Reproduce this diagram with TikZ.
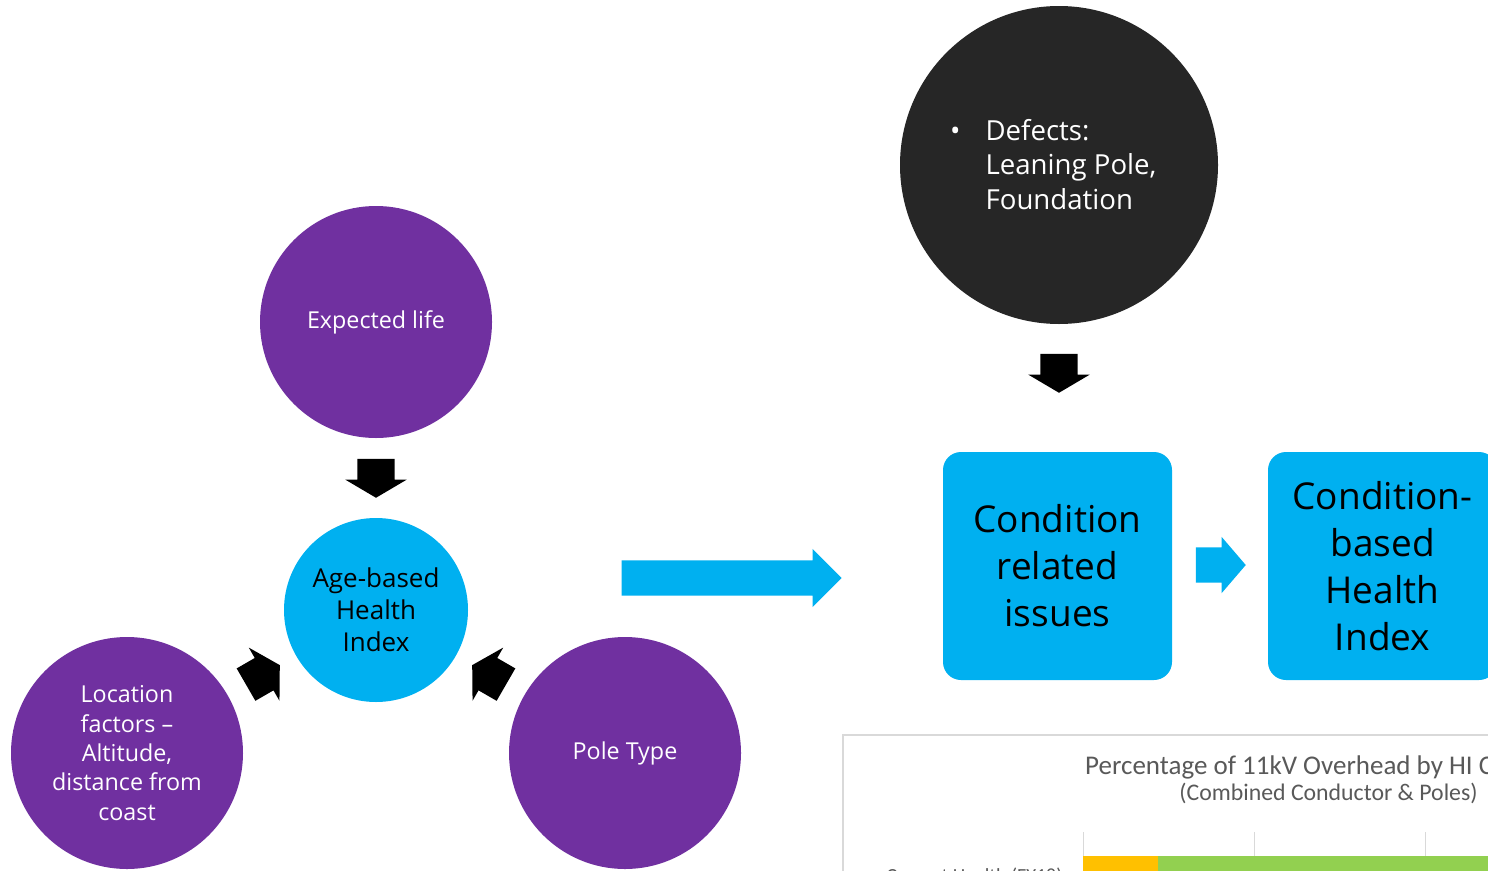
\documentclass[tikz,border=0pt]{standalone}
\usepackage{fontspec}
\setmainfont{Open Sans}
\newfontfamily\chartfont{Carlito}
\usetikzlibrary{shapes.arrows}
\definecolor{hipurple}{HTML}{7030A0}
\definecolor{hiblue}{HTML}{00B0F0}
\definecolor{hidark}{HTML}{262626}
\definecolor{chartgray}{HTML}{D9D9D9}
\definecolor{charttext}{HTML}{595959}
\definecolor{barorange}{HTML}{FFC000}
\definecolor{bargreen}{HTML}{92D050}

\begin{document}
\begin{tikzpicture}[x=1pt,y=-1pt,
  pc/.style={circle,fill=hipurple,text=white,inner sep=0pt,minimum size=232pt,align=center,font=\fontsize{23.3}{29.3}\selectfont},
  bc/.style={circle,fill=hiblue,text=black,inner sep=0pt,minimum size=184pt,align=center,font=\fontsize{26}{32}\selectfont},
  box/.style={rectangle,rounded corners=18pt,fill=hiblue,text=black,inner sep=0pt,minimum width=229pt,minimum height=228pt,align=center,font=\fontsize{37}{47}\selectfont},
  karrow/.style={single arrow,fill=black,anchor=tip,inner xsep=0pt,inner ysep=18.5pt,minimum height=39pt,single arrow head extend=12pt,single arrow tip angle=118.9},
  barrow/.style={single arrow,fill=hiblue,anchor=tip,inner xsep=0pt,inner ysep=17.5pt}]
\useasboundingbox (0,0) rectangle (1488,870);
\clip (0,0) rectangle (1488,870);
\fill[white] (0,0) rectangle (1488,870);
% age-based part
\node[pc] (life) at (376,322) {Expected life};
\node[bc] (age) at (376,610) {Age-based\\Health\\Index};
\node[pc] (loc) at (127,753) {Location\\factors --\\Altitude,\\distance from\\coast};
\node[pc] (pole) at (625,753) {Pole Type};
\node[karrow,rotate=-90] (a1) at (376,498) {};
\node[karrow,rotate=30] (a2) at (280,665) {};
\node[karrow,rotate=150] (a3) at (472,665) {};
% condition-based part
\node[barrow,minimum height=220pt,single arrow head extend=11.5pt] (big) at (842,578) {};
\node[circle,fill=hidark,text=white,inner sep=0pt,minimum size=318pt] (def) at (1059,165) {};
\node[anchor=north west,inner sep=0pt,text=white,font=\fontsize{27.6}{34.5}\selectfont] (deftxt) at (950,116)
  {\begin{tabular}{@{}l@{\hspace{25pt}}l@{}}\textbullet & Defects:\\ & Leaning Pole,\\ & Foundation\end{tabular}};
\node[karrow,rotate=-90] (a4) at (1059,393) {};
\node[box] (issues) at (1057.5,566) {Condition\\related\\issues};
\node[barrow,minimum height=50pt,single arrow head extend=10.5pt,single arrow tip angle=98.8] (small) at (1246,565) {};
\node[box] (hi) at (1382.5,566) {Condition-\\based\\Health\\Index};
% chart
\draw[chartgray,line width=1.2pt] (843,735) rectangle (1500,890);
\foreach \gx in {1083,1254,1425} \draw[chartgray,line width=1pt] (\gx,832) -- (\gx,890);
\fill[barorange] (1083,856) rectangle (1158,890);
\fill[bargreen] (1158,856) rectangle (1500,890);
\node[anchor=west,inner sep=0pt,text=charttext,font=\chartfont\fontsize{27}{29}\selectfont] (title) at (1085,767) {Percentage of 11kV Overhead by HI Category};
\node[text=charttext,font=\chartfont\fontsize{23.8}{26}\selectfont] (sub) at (1328.5,793) {(Combined Conductor \& Poles)};
\node[anchor=east,text=charttext,font=\chartfont\fontsize{20}{22}\selectfont] (cat) at (1066,877) {Current Health (FY18)};
\end{tikzpicture}
\end{document}
